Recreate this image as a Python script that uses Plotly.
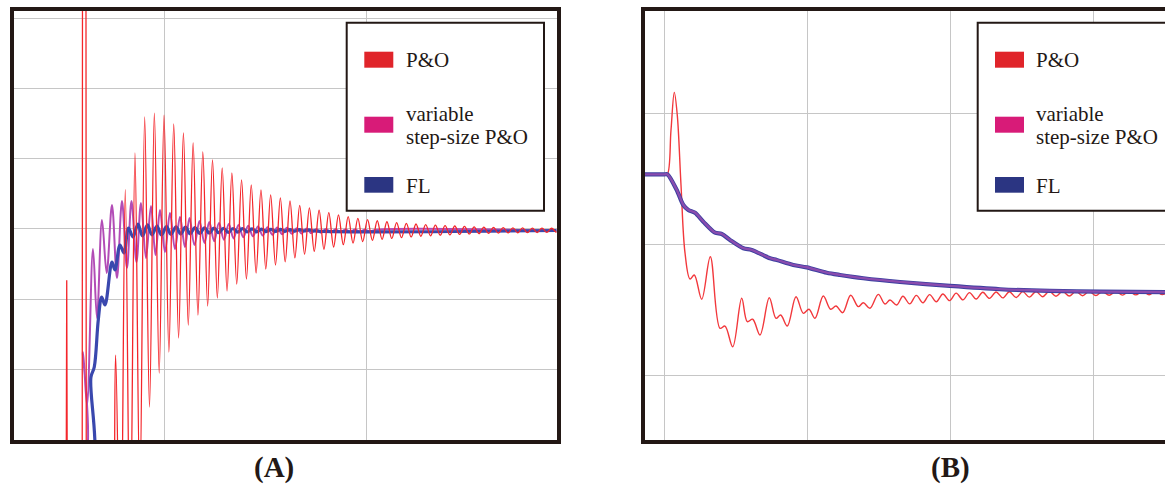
import plotly.graph_objects as go

W, H = 1165, 484

# ---------------- Panel (A): time (ms) vs power (W) ----------------
# P&O start-up transient (narrow spikes, straight segments)
po_a_start_t = [24, 51.55, 51.8, 52.05, 59.45, 59.6, 61.3, 61.45, 70.0]
po_a_start_p = [-5, -5, 22.7, -5, -5, 70, 70, -5, -5]

# P&O oscillation (peaks and troughs)
po_a_t = [70.0, 73.55, 75.94, 78.34, 80.73, 83.13, 85.52, 87.91, 90.31, 92.70, 95.10,
          97.49, 99.88, 102.28, 104.67, 107.07, 109.46, 111.86, 114.25, 116.64, 119.04,
          121.43, 123.83, 126.22, 128.62, 131.01, 133.40, 135.80, 138.19, 140.59, 142.98,
          145.37, 147.77, 150.16, 152.56, 154.95, 157.35, 159.74, 162.13, 164.53,
          166.92, 169.32, 171.71, 174.11, 176.50, 178.89, 181.29, 183.68, 186.08, 188.47,
          190.86, 193.26, 195.65, 198.05, 200.44, 202.84, 205.23, 207.62, 210.02, 212.41,
          214.81, 217.20, 219.60, 221.99, 224.38, 226.78, 229.17, 231.57, 233.96, 236.35,
          238.75, 241.14, 243.54, 245.93, 248.33, 250.72, 253.11, 255.51, 257.90, 260.30,
          262.69, 265.08, 267.48, 269.87, 272.27, 274.66, 277.06, 279.45, 281.84, 284.24,
          286.63, 289.03, 291.42, 293.82, 296.21]
po_a_p = [-20, -25, 12.0, -23, 35.6, -17, 40.81, -8.7, 45.94, 4.63, 46.5,
          9.47, 46.2, 12.46, 44.94, 14.46, 43.66, 16.31, 42.24, 17.73, 40.96,
          19.02, 39.82, 20.16, 38.68, 21.15, 37.96, 22.15, 36.97, 22.86, 36.26,
          23.72, 35.55, 24.29, 34.84, 24.86, 34.41, 25.29, 33.98, 25.86,
          33.36, 26.4, 33.0, 26.8, 32.68, 27.1, 32.32, 27.42, 32.0, 27.75,
          31.75, 27.98, 31.5, 28.2, 31.32, 28.36, 31.16, 28.52, 31.02, 28.64,
          30.9, 28.75, 30.8, 28.85, 30.7, 28.95, 30.62, 29.02, 30.54, 29.1,
          30.47, 29.16, 30.41, 29.22, 30.35, 29.28, 30.3, 29.32, 30.26, 29.36,
          30.22, 29.4, 30.19, 29.42, 30.16, 29.45, 30.14, 29.47, 30.12, 29.49,
          30.1, 29.5, 30.09, 29.52, 30.08]

vss_a_t = [24, 57.9, 59.83, 61.81, 64.77, 66.75, 69.22, 71.54, 74.16, 76.63, 79.1,
           81.57, 83.79, 86.26, 88.49, 90.96, 93.43, 95.65, 97.88, 100.35, 102.82,
           105.29, 107.76, 110.23, 112.45, 114.92, 117.39,
           119.86, 122.23, 124.65, 127.03, 129.50, 131.87, 134.24, 136.66, 139.03, 141.45,
           143.82, 146.30, 148.67, 151.04, 153.46, 155.83, 158.25, 160.62, 163.09, 165.46,
           167.84, 170.26, 172.63, 175.05, 177.42, 179.89, 182.26, 184.63, 187.06, 189.43,
           191.85, 194.22, 196.69, 199.16, 201.63, 204.1, 296]
vss_a_p = [-6, -6, 12.46, 4.91, 27.14, 17.31, 31.27, 23.72, 33.4, 23.0, 33.97,
           24.43, 33.97, 25.28, 33.69, 25.85, 33.26, 26.28, 32.69, 26.71, 32.27,
           27.13, 31.7, 27.42, 31.55, 27.7, 31.13,
           28.0, 31.0, 28.25, 30.85, 28.45, 30.7, 28.65, 30.55, 28.8, 30.45,
           28.95, 30.35, 29.05, 30.25, 29.15, 30.2, 29.25, 30.15, 29.3, 30.1,
           29.35, 30.05, 29.4, 30.0, 29.45, 29.97, 29.5, 29.95, 29.55, 29.92,
           29.58, 29.9, 29.6, 29.88, 29.63, 29.86, 29.75]

fl_a_t = [24, 62.0, 63.78, 65.41, 67.39, 69.07, 70.7, 74.16, 75.64, 78.11, 80.09,
          82.31, 84.54, 87.01, 89.23, 91.70, 93.92, 96.39, 98.62,
          101.09, 103.31, 105.78, 108.1, 110.47, 112.8, 115.17, 117.49, 119.86, 122.18,
          124.56, 126.88, 129.25, 131.57, 133.94, 136.26, 138.64, 140.96, 143.33, 145.65,
          148.02, 150.35, 152.72, 155.04, 157.41, 159.73, 162.1, 164.43, 166.8, 169.12,
          171.49, 173.96, 296]
fl_a_p = [-6, -6, 8.9, 10.33, 17.02, 20.3, 19.16, 25.28, 24.15, 27.71, 26.57,
          30.13, 28.85, 30.70, 29.0, 30.56, 29.14, 30.41, 29.14,
          30.32, 29.22, 30.28, 29.27, 30.24, 29.31, 30.2, 29.36, 30.16, 29.41,
          30.12, 29.45, 30.09, 29.49, 30.06, 29.53, 30.03, 29.56, 30.0, 29.59,
          29.97, 29.62, 29.95, 29.64, 29.93, 29.66, 29.91, 29.68, 29.89, 29.7,
          29.87, 29.72, 29.78]

# ---------------- Panel (B): time (s) vs voltage ----------------
po_b_t = [-0.2, -0.1, 0.0, 0.021, 0.0468, 0.0698, 0.0908, 0.1166, 0.1446, 0.1795, 0.2095,
          0.2612, 0.3212, 0.389, 0.4239, 0.4777, 0.5405, 0.5796, 0.6173, 0.6683, 0.7332,
          0.78, 0.8128, 0.8589, 0.9197, 0.9707, 1.0105, 1.0524, 1.1103, 1.162, 1.199,
          1.2458, 1.3017, 1.3547, 1.3897, 1.4365, 1.4944, 1.5412, 1.5761, 1.6229,
          1.6662, 1.7137, 1.7598, 1.8066, 1.8527, 1.8994, 1.9455, 1.9923, 2.0384, 2.0852,
          2.1313, 2.1781, 2.2242, 2.2709, 2.317, 2.3638, 2.4099, 2.4567, 2.5028, 2.5496,
          2.5957, 2.6425, 2.6885, 2.7353, 2.7814, 2.8282, 2.8743, 2.9211, 2.9672, 3.014,
          3.06, 3.1068, 3.1529, 3.1997, 3.2458, 3.2926, 3.3387, 3.3855, 3.4316, 3.4783,
          3.5244]
po_b_v = [25.37, 25.37, 25.37, 25.37, 28.76, 31.63, 29.87, 24.56, 19.37, 17.38, 17.69,
          15.84, 19.08, 13.62, 13.79, 12.21, 15.91, 14.12, 14.31, 13.11, 15.95,
          14.38, 14.63, 13.79, 16.03, 14.76, 15.07, 14.38, 16.08, 15.07, 15.32,
          14.81, 16.14, 15.27, 15.57, 15.15, 16.21, 15.47, 15.78, 15.4,
          16.07, 15.48, 16.13, 15.57, 16.19, 15.65, 16.24, 15.73, 16.3, 15.79,
          16.34, 15.85, 16.37, 15.9, 16.39, 15.94, 16.41, 15.97, 16.42, 16.0,
          16.43, 16.03, 16.44, 16.06, 16.44, 16.08, 16.44, 16.1, 16.44, 16.12,
          16.43, 16.14, 16.43, 16.15, 16.44, 16.17, 16.44, 16.18, 16.45, 16.19,
          16.45]

fl_b_t = [-0.2, -0.1, 0.0, 0.022, 0.0866, 0.1327, 0.1676, 0.2144, 0.2723, 0.354, 0.4008,
          0.4588, 0.5517, 0.6103, 0.7381, 0.7849, 0.9008, 0.9944, 1.1341, 1.2269, 1.3897,
          1.646, 1.995, 2.344, 2.693, 3.042, 3.55]
fl_b_v = [25.37, 25.37, 25.37, 25.37, 24.18, 23.03, 22.65, 22.44, 21.76, 20.92, 20.82,
          20.36, 19.73, 19.6, 18.96, 18.83, 18.45, 18.27, 17.86, 17.69, 17.44,
          17.15, 16.85, 16.6, 16.47, 16.41, 16.37]

vss_b_t = [-0.2, -0.1, 0.0, 0.022, 0.0866, 0.1327, 0.1676, 0.2144, 0.2723, 0.354, 0.4008,
           0.4588, 0.5517, 0.6103, 0.7381, 0.7849, 0.9008, 0.9944, 1.1341, 1.2269, 1.3897,
           1.646, 1.995, 2.344, 2.693, 3.042, 3.55]
vss_b_v = [25.37, 25.37, 25.37, 25.37, 24.2, 23.05, 22.66, 22.45, 21.77, 20.93, 20.83,
           20.37, 19.74, 19.61, 18.97, 18.84, 18.46, 18.28, 17.87, 17.7, 17.45,
           17.16, 16.86, 16.61, 16.48, 16.42, 16.38]

legend_labels = ["P&O", "variable", "step-size P&O", "FL"]
panel_labels = ["(A)", "(B)"]

# ---------------- styling ----------------
RED = "#f4262b"
PURPLE = "#b24cb6"
BLUE = "#3a48ae"
FRAME = "#231815"
GRID = "#c6c6c6"
SERIF = "Liberation Serif, Times New Roman, Times, serif"


def px(x):
    return x / W


def py(y):
    return 1 - y / H


fig = go.Figure()

# Panel A traces (purple, blue, then red on top)
fig.add_trace(go.Scatter(x=vss_a_t, y=vss_a_p, mode="lines", name="variable step-size P&O",
                         line=dict(color=PURPLE, width=2, shape="spline"),
                         xaxis="x", yaxis="y", showlegend=False))
fig.add_trace(go.Scatter(x=fl_a_t, y=fl_a_p, mode="lines", name="FL",
                         line=dict(color=BLUE, width=3.2, shape="spline"),
                         xaxis="x", yaxis="y", showlegend=False))
fig.add_trace(go.Scatter(x=po_a_start_t, y=po_a_start_p, mode="lines", name="P&O",
                         legendgroup="po_a", line=dict(color=RED, width=1.3),
                         xaxis="x", yaxis="y", showlegend=False))
fig.add_trace(go.Scatter(x=po_a_t, y=po_a_p, mode="lines", name="P&O",
                         legendgroup="po_a", line=dict(color=RED, width=1.3, shape="spline"),
                         xaxis="x", yaxis="y", showlegend=False))

# Panel B traces (red underneath the FL / variable step-size curves)
fig.add_trace(go.Scatter(x=po_b_t, y=po_b_v, mode="lines", name="P&O",
                         line=dict(color="#f2383c", width=1.4, shape="spline"),
                         xaxis="x2", yaxis="y2", showlegend=False))
fig.add_trace(go.Scatter(x=fl_b_t, y=fl_b_v, mode="lines", name="FL",
                         line=dict(color="#3c3fa0", width=4.2, shape="spline", smoothing=0.8),
                         xaxis="x2", yaxis="y2", showlegend=False))
fig.add_trace(go.Scatter(x=vss_b_t, y=vss_b_v, mode="lines", name="variable step-size P&O",
                         line=dict(color="#8a4cae", width=2.4, shape="spline", smoothing=0.8),
                         xaxis="x2", yaxis="y2", showlegend=False))

axis_common = dict(showline=True, linecolor=FRAME, linewidth=3.5, showgrid=True,
                   gridcolor=GRID, gridwidth=1.4, zeroline=False, ticks="",
                   showticklabels=False, tickmode="array", fixedrange=True)

fig.update_layout(
    width=W, height=H, autosize=False,
    margin=dict(l=0, r=0, t=0, b=0, pad=0),
    paper_bgcolor="white", plot_bgcolor="white",
    xaxis=dict(axis_common, domain=[px(13.5), px(556.5)], range=[25.5, 293.8],
               tickvals=[100, 200], mirror=True, anchor="y"),
    yaxis=dict(axis_common, domain=[py(440), py(10.5)], range=[-0.07, 61.11],
               tickvals=[10, 20, 30, 40, 50, 60], mirror=True, anchor="x"),
    xaxis2=dict(axis_common, domain=[px(645), 1.0], range=[-0.1348, 3.4966],
                tickvals=[0, 1, 2, 3], mirror=True, anchor="y2"),
    yaxis2=dict(axis_common, domain=[py(440), py(10.5)], range=[5.09, 37.88],
                tickvals=[10, 20, 30], mirror=False, anchor="x2"),
    showlegend=False,
)

shapes = []
annotations = []
patch_cols = ["#e0242a", "#d81b78", "#2b3582"]
patch_y = [(51.7, 67.7), (116.7, 132.7), (177.0, 192.7)]
for box_x0, box_x1, patch_x0, text_x in [(346.7, 544.0, 364.3, 406.0),
                                         (977.7, 1200.0, 995.0, 1036.0)]:
    shapes.append(dict(type="rect", xref="paper", yref="paper",
                       x0=px(box_x0), x1=px(box_x1), y0=py(210.7), y1=py(22.7),
                       line=dict(color=FRAME, width=2), fillcolor="white", layer="above"))
    for col, (y0, y1) in zip(patch_cols, patch_y):
        shapes.append(dict(type="rect", xref="paper", yref="paper",
                           x0=px(patch_x0), x1=px(patch_x0 + 29), y0=py(y1), y1=py(y0),
                           line=dict(color=col, width=0), fillcolor=col, layer="above"))
    for label, ymid in zip(legend_labels, [59.8, 113.6, 137.2, 185.8]):
        annotations.append(dict(text=label, xref="paper", yref="paper", x=px(text_x),
                                y=py(ymid), xanchor="left", yanchor="middle",
                                showarrow=False, borderpad=0, borderwidth=0,
                                font=dict(family=SERIF, size=21, color=FRAME)))

for label, cx in zip(panel_labels, [273.5, 950.3]):
    annotations.append(dict(text="<b>%s</b>" % label, xref="paper", yref="paper",
                            x=px(cx), y=py(467.2), xanchor="center", yanchor="middle",
                            showarrow=False, borderpad=0, borderwidth=0,
                            font=dict(family=SERIF, size=29, color=FRAME)))

fig.update_layout(shapes=shapes, annotations=annotations)
fig.write_html("out.html", config={"displayModeBar": False})
